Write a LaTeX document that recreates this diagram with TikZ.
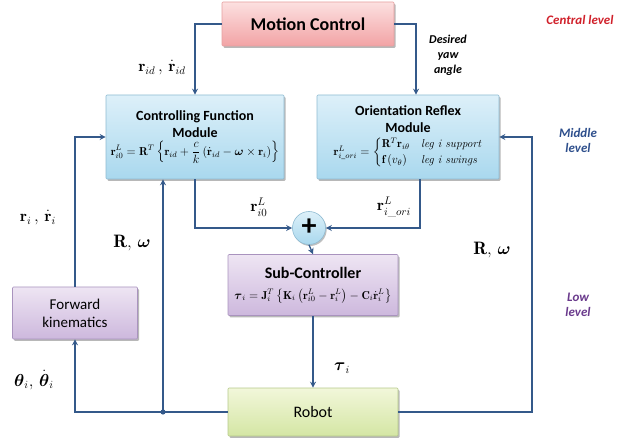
\documentclass[tikz,border=0pt]{standalone}
\usepackage{amsmath}
\usepackage{fontspec}
\setsansfont{Carlito}
\usetikzlibrary{arrows.meta,shadows,calc}
\definecolor{linec}{HTML}{34598A}
\definecolor{redlev}{HTML}{D0202A}
\definecolor{bluelev}{HTML}{2E4F8C}
\definecolor{purplelev}{HTML}{6A3A8C}
\definecolor{pinkT}{HTML}{FCE0E0}
\definecolor{pinkB}{HTML}{F2A3A5}
\definecolor{pinkD}{HTML}{E6A0A0}
\definecolor{blueT}{HTML}{DDF0F9}
\definecolor{blueB}{HTML}{A9D8EE}
\definecolor{blueD}{HTML}{8FBBD2}
\definecolor{lilT}{HTML}{EEE5F3}
\definecolor{lilB}{HTML}{CDB8DD}
\definecolor{lilD}{HTML}{A993BE}
\definecolor{grnT}{HTML}{F2F7DA}
\definecolor{grnB}{HTML}{D4E6A4}
\definecolor{grnD}{HTML}{B5C98A}
\newcommand{\legtxt}[1]{\text{\rmfamily\mdseries\itshape #1}}
\tikzset{
  blk/.style={draw, line width=0.6pt, rounded corners=1pt, inner sep=2pt,
    font=\sffamily, align=center,
    drop shadow={shadow xshift=1.5pt, shadow yshift=-1.8pt, opacity=0.28, fill=black}},
  pinkbox/.style={blk, draw=pinkD, top color=pinkT, bottom color=pinkB},
  bluebox/.style={blk, draw=blueD, top color=blueT, bottom color=blueB},
  lilacbox/.style={blk, draw=lilD, top color=lilT, bottom color=lilB},
  greenbox/.style={blk, draw=grnD, top color=grnT, bottom color=grnB},
  arr/.style={draw=linec, line width=1.3pt, -{Stealth[length=6pt,width=6pt]}},
  lab/.style={inner sep=0pt},
  lev/.style={font=\sffamily\bfseries\itshape\fontsize{13}{15}\selectfont, align=center, inner sep=0pt}
}
\begin{document}
\begin{tikzpicture}[x=1pt,y=-1pt]
\useasboundingbox (0,0) rectangle (622,441);

% boxes
\node[pinkbox, minimum width=172pt, minimum height=44pt, font=\sffamily\bfseries\fontsize{18}{20}\selectfont] (mc) at (308,24)
  {Motion Control};
\node[bluebox, minimum width=178pt, minimum height=84pt, font=\sffamily\bfseries\fontsize{14}{17}\selectfont] (cf) at (195,137)
  {Controlling Function\\Module\\[1pt]
   \hbox{\fontsize{11.5}{13}\selectfont $\mathbf{r}_{i0}^{L}=\mathbf{R}^{T}\left\{\mathbf{r}_{id}+\dfrac{c}{k}\left(\dot{\mathbf{r}}_{id}-\boldsymbol{\omega}\times\mathbf{r}_{i}\right)\right\}$}};
\node[bluebox, minimum width=182pt, minimum height=84pt, font=\sffamily\bfseries\fontsize{14}{17}\selectfont] (or) at (408,137)
  {Orientation Reflex\\Module\\[3pt]
   \hbox{\fontsize{11.5}{13}\selectfont\mdseries $\mathbf{r}_{i\_ori}^{L}=\begin{cases}\mathbf{R}^{T}\mathbf{r}_{i\theta} & \legtxt{leg i support}\\ \mathbf{f}\left(v_{\theta}\right) & \legtxt{leg i swings}\end{cases}$}};
\node[lilacbox, minimum width=170pt, minimum height=61pt, font=\sffamily\bfseries\fontsize{16}{19}\selectfont] (sc) at (313,285)
  {Sub-Controller\\[2pt]
   \hbox{\fontsize{11.5}{13}\selectfont $\boldsymbol{\tau}_{i}=\mathbf{J}_{i}^{T}\left\{\mathbf{K}_{i}\left(\mathbf{r}_{i0}^{L}-\mathbf{r}_{i}^{L}\right)-\mathbf{C}_{i}\dot{\mathbf{r}}_{i}^{L}\right\}$}};
\node[greenbox, minimum width=170pt, minimum height=48pt, font=\sffamily\fontsize{16}{19}\selectfont] (rb) at (313,412)
  {Robot};
\node[lilacbox, minimum width=125pt, minimum height=52pt, font=\sffamily\fontsize{15}{18}\selectfont] (fk) at (75,313)
  {Forward\\kinematics};
\node[circle, draw=blueD, line width=0.6pt, top color=blueT, bottom color=blueB,
  minimum size=33pt, inner sep=0pt, font=\sffamily\bfseries\fontsize{30}{30}\selectfont,
  drop shadow={shadow xshift=1.2pt, shadow yshift=-1.5pt, opacity=0.25, fill=black}] (pl) at (309,228)
  {\raisebox{1pt}{+}};

% coordinates
\coordinate (jd) at (163,412);
\coordinate (rr) at (532,137);

% connectors
\draw[arr] (mc.west) -| (cf.north);
\draw[arr] (mc.east) -| ([xshift=8pt]or.north);
\draw[arr] (cf.south) |- (pl.west);
\draw[arr] ([xshift=12pt]or.south) |- (pl.east);
\draw[arr] (pl.south) -- (sc.north);
\draw[arr] (sc.south) -- (rb.north);
\draw[arr] (rb.west) -| (fk.south);
\draw[arr] (jd) -- (cf.south -| jd);
\fill[linec] (jd) circle (2.6pt);
\draw[arr] (fk.north) |- (cf.west);
\draw[arr] (rb.east) -| (rr) -- (or.east);

% labels
\node[lab] (l1) at (162,68) {\fontsize{16}{18}\selectfont $\mathbf{r}_{id}\,,\,\dot{\mathbf{r}}_{id}$};
\node[lev, text=black, font=\sffamily\bfseries\itshape\fontsize{12}{15}\selectfont] (l2) at (448,55) {Desired\\yaw\\angle};
\node[lab] (l3) at (38,218) {\fontsize{16}{18}\selectfont $\mathbf{r}_{i}\,,\,\dot{\mathbf{r}}_{i}$};
\node[lab] (l4) at (132,243) {\fontsize{18}{20}\selectfont $\mathbf{R},\,\boldsymbol{\omega}$};
\node[lab] (l5) at (492,250) {\fontsize{18}{20}\selectfont $\mathbf{R},\,\boldsymbol{\omega}$};
\node[lab] (l6) at (34,380) {\fontsize{16}{18}\selectfont $\boldsymbol{\theta}_{i},\,\dot{\boldsymbol{\theta}}_{i}$};
\node[lab] (l7) at (259,207) {\fontsize{16}{18}\selectfont $\mathbf{r}_{i0}^{L}$};
\node[lab] (l8) at (394,207) {\fontsize{16}{18}\selectfont $\mathbf{r}_{i\_ori}^{L}$};
\node[lab] (l9) at (342,368) {\fontsize{16}{18}\selectfont $\boldsymbol{\tau}_{i}$};
\node[lev, text=redlev] (v1) at (580,20) {Central level};
\node[lev, text=bluelev] (v2) at (578,140) {Middle\\level};
\node[lev, text=purplelev] (v3) at (578,305) {Low\\level};
\end{tikzpicture}
\end{document}
